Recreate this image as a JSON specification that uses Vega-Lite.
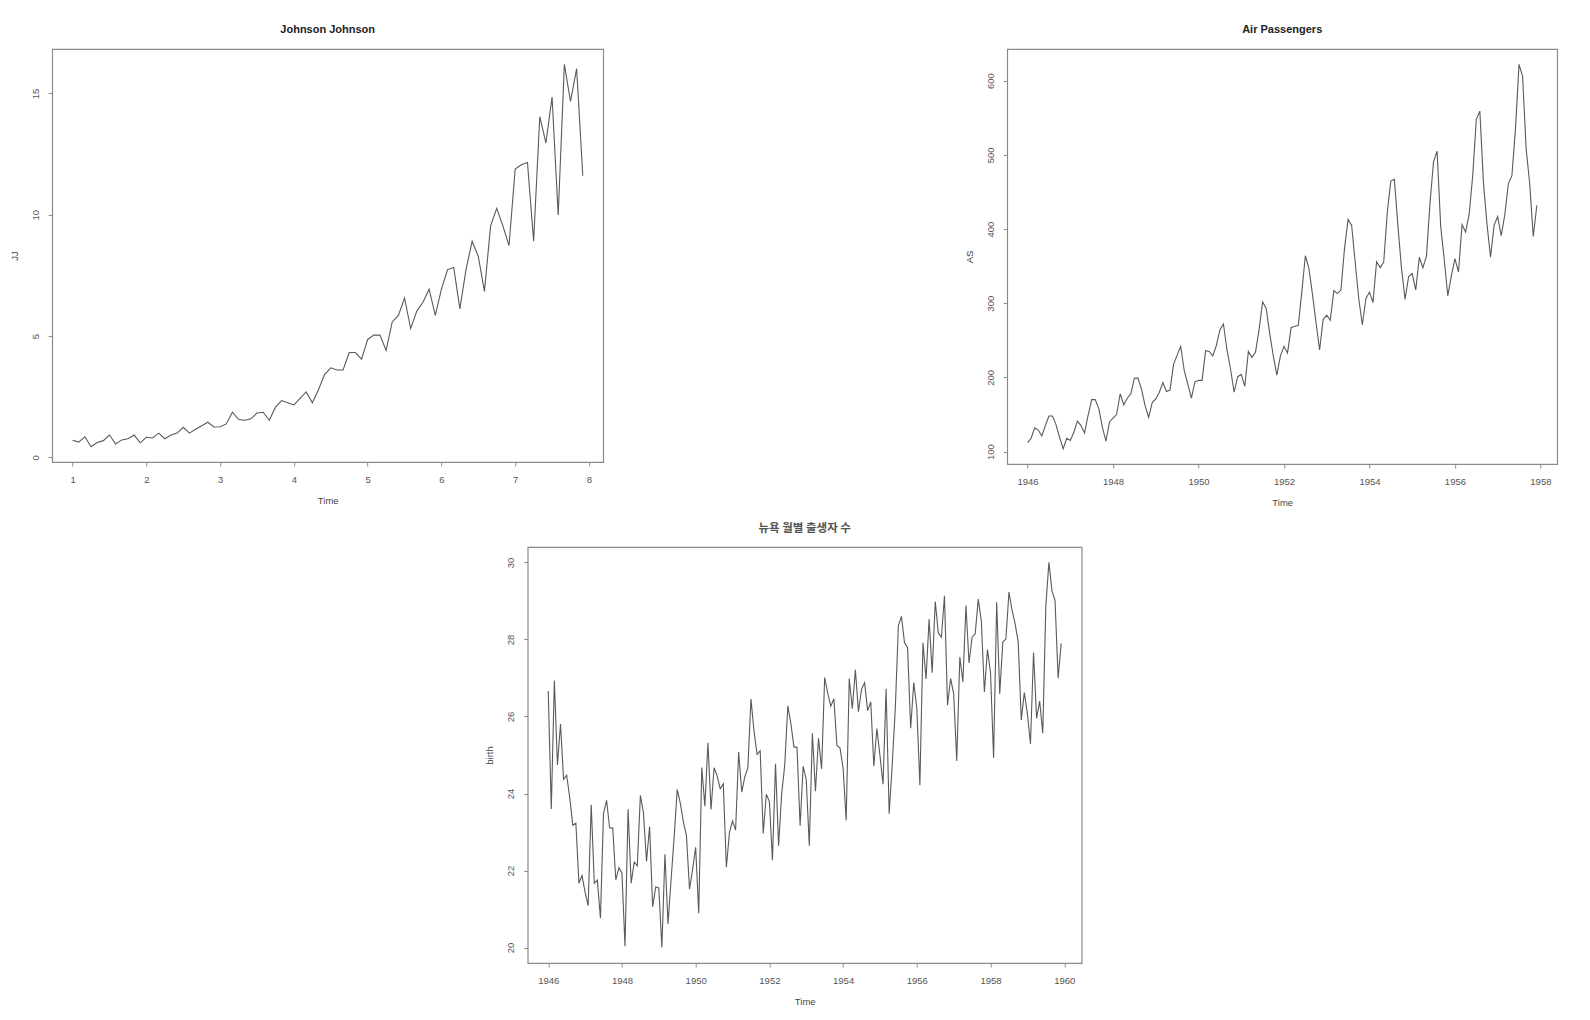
{
  "$schema": "https://vega.github.io/schema/vega-lite/v6.json",
  "background": "white",
  "padding": {"left": 8, "top": 23, "right": 5, "bottom": 5},
  "datasets": {
    "jj": [
      {"t":1,"v":0.71},{"t":1.0833,"v":0.63},{"t":1.1667,"v":0.85},{"t":1.25,"v":0.44},{"t":1.3333,"v":0.61},{"t":1.4167,"v":0.69},{"t":1.5,"v":0.92},{"t":1.5833,"v":0.55},{"t":1.6667,"v":0.72},{"t":1.75,"v":0.77},{"t":1.8333,"v":0.92},{"t":1.9167,"v":0.60},
      {"t":2,"v":0.83},{"t":2.0833,"v":0.80},{"t":2.1667,"v":1.00},{"t":2.25,"v":0.77},{"t":2.3333,"v":0.92},{"t":2.4167,"v":1.00},{"t":2.5,"v":1.24},{"t":2.5833,"v":1.00},{"t":2.6667,"v":1.16},{"t":2.75,"v":1.30},{"t":2.8333,"v":1.45},{"t":2.9167,"v":1.25},
      {"t":3,"v":1.26},{"t":3.0833,"v":1.38},{"t":3.1667,"v":1.86},{"t":3.25,"v":1.56},{"t":3.3333,"v":1.53},{"t":3.4167,"v":1.59},{"t":3.5,"v":1.83},{"t":3.5833,"v":1.86},{"t":3.6667,"v":1.53},{"t":3.75,"v":2.07},{"t":3.8333,"v":2.34},{"t":3.9167,"v":2.25},
      {"t":4,"v":2.16},{"t":4.0833,"v":2.43},{"t":4.1667,"v":2.70},{"t":4.25,"v":2.25},{"t":4.3333,"v":2.79},{"t":4.4167,"v":3.42},{"t":4.5,"v":3.69},{"t":4.5833,"v":3.60},{"t":4.6667,"v":3.60},{"t":4.75,"v":4.32},{"t":4.8333,"v":4.32},{"t":4.9167,"v":4.05},
      {"t":5,"v":4.86},{"t":5.0833,"v":5.04},{"t":5.1667,"v":5.04},{"t":5.25,"v":4.41},{"t":5.3333,"v":5.58},{"t":5.4167,"v":5.85},{"t":5.5,"v":6.57},{"t":5.5833,"v":5.31},{"t":5.6667,"v":6.03},{"t":5.75,"v":6.39},{"t":5.8333,"v":6.93},{"t":5.9167,"v":5.85},
      {"t":6,"v":6.93},{"t":6.0833,"v":7.74},{"t":6.1667,"v":7.83},{"t":6.25,"v":6.12},{"t":6.3333,"v":7.74},{"t":6.4167,"v":8.91},{"t":6.5,"v":8.28},{"t":6.5833,"v":6.84},{"t":6.6667,"v":9.54},{"t":6.75,"v":10.26},{"t":6.8333,"v":9.54},{"t":6.9167,"v":8.73},
      {"t":7,"v":11.88},{"t":7.0833,"v":12.06},{"t":7.1667,"v":12.15},{"t":7.25,"v":8.91},{"t":7.3333,"v":14.04},{"t":7.4167,"v":12.96},{"t":7.5,"v":14.85},{"t":7.5833,"v":9.99},{"t":7.6667,"v":16.20},{"t":7.75,"v":14.67},{"t":7.8333,"v":16.02},{"t":7.9167,"v":11.61}
    ],
    "ap": [
      {"t":1946,"v":112},{"t":1946.0833,"v":118},{"t":1946.1667,"v":132},{"t":1946.25,"v":129},{"t":1946.3333,"v":121},{"t":1946.4167,"v":135},{"t":1946.5,"v":148},{"t":1946.5833,"v":148},{"t":1946.6667,"v":136},{"t":1946.75,"v":119},{"t":1946.8333,"v":104},{"t":1946.9167,"v":118},
      {"t":1947,"v":115},{"t":1947.0833,"v":126},{"t":1947.1667,"v":141},{"t":1947.25,"v":135},{"t":1947.3333,"v":125},{"t":1947.4167,"v":149},{"t":1947.5,"v":170},{"t":1947.5833,"v":170},{"t":1947.6667,"v":158},{"t":1947.75,"v":133},{"t":1947.8333,"v":114},{"t":1947.9167,"v":140},
      {"t":1948,"v":145},{"t":1948.0833,"v":150},{"t":1948.1667,"v":178},{"t":1948.25,"v":163},{"t":1948.3333,"v":172},{"t":1948.4167,"v":178},{"t":1948.5,"v":199},{"t":1948.5833,"v":199},{"t":1948.6667,"v":184},{"t":1948.75,"v":162},{"t":1948.8333,"v":146},{"t":1948.9167,"v":166},
      {"t":1949,"v":171},{"t":1949.0833,"v":180},{"t":1949.1667,"v":193},{"t":1949.25,"v":181},{"t":1949.3333,"v":183},{"t":1949.4167,"v":218},{"t":1949.5,"v":230},{"t":1949.5833,"v":242},{"t":1949.6667,"v":209},{"t":1949.75,"v":191},{"t":1949.8333,"v":172},{"t":1949.9167,"v":194},
      {"t":1950,"v":196},{"t":1950.0833,"v":196},{"t":1950.1667,"v":236},{"t":1950.25,"v":235},{"t":1950.3333,"v":229},{"t":1950.4167,"v":243},{"t":1950.5,"v":264},{"t":1950.5833,"v":272},{"t":1950.6667,"v":237},{"t":1950.75,"v":211},{"t":1950.8333,"v":180},{"t":1950.9167,"v":201},
      {"t":1951,"v":204},{"t":1951.0833,"v":188},{"t":1951.1667,"v":235},{"t":1951.25,"v":227},{"t":1951.3333,"v":234},{"t":1951.4167,"v":264},{"t":1951.5,"v":302},{"t":1951.5833,"v":293},{"t":1951.6667,"v":259},{"t":1951.75,"v":229},{"t":1951.8333,"v":203},{"t":1951.9167,"v":229},
      {"t":1952,"v":242},{"t":1952.0833,"v":233},{"t":1952.1667,"v":267},{"t":1952.25,"v":269},{"t":1952.3333,"v":270},{"t":1952.4167,"v":315},{"t":1952.5,"v":364},{"t":1952.5833,"v":347},{"t":1952.6667,"v":312},{"t":1952.75,"v":274},{"t":1952.8333,"v":237},{"t":1952.9167,"v":278},
      {"t":1953,"v":284},{"t":1953.0833,"v":277},{"t":1953.1667,"v":317},{"t":1953.25,"v":313},{"t":1953.3333,"v":318},{"t":1953.4167,"v":374},{"t":1953.5,"v":413},{"t":1953.5833,"v":405},{"t":1953.6667,"v":355},{"t":1953.75,"v":306},{"t":1953.8333,"v":271},{"t":1953.9167,"v":306},
      {"t":1954,"v":315},{"t":1954.0833,"v":301},{"t":1954.1667,"v":356},{"t":1954.25,"v":348},{"t":1954.3333,"v":355},{"t":1954.4167,"v":422},{"t":1954.5,"v":465},{"t":1954.5833,"v":467},{"t":1954.6667,"v":404},{"t":1954.75,"v":347},{"t":1954.8333,"v":305},{"t":1954.9167,"v":336},
      {"t":1955,"v":340},{"t":1955.0833,"v":318},{"t":1955.1667,"v":362},{"t":1955.25,"v":348},{"t":1955.3333,"v":363},{"t":1955.4167,"v":435},{"t":1955.5,"v":491},{"t":1955.5833,"v":505},{"t":1955.6667,"v":404},{"t":1955.75,"v":359},{"t":1955.8333,"v":310},{"t":1955.9167,"v":337},
      {"t":1956,"v":360},{"t":1956.0833,"v":342},{"t":1956.1667,"v":406},{"t":1956.25,"v":396},{"t":1956.3333,"v":420},{"t":1956.4167,"v":472},{"t":1956.5,"v":548},{"t":1956.5833,"v":559},{"t":1956.6667,"v":463},{"t":1956.75,"v":407},{"t":1956.8333,"v":362},{"t":1956.9167,"v":405},
      {"t":1957,"v":417},{"t":1957.0833,"v":391},{"t":1957.1667,"v":419},{"t":1957.25,"v":461},{"t":1957.3333,"v":472},{"t":1957.4167,"v":535},{"t":1957.5,"v":622},{"t":1957.5833,"v":606},{"t":1957.6667,"v":508},{"t":1957.75,"v":461},{"t":1957.8333,"v":390},{"t":1957.9167,"v":432}
    ],
    "ny": [
      {"t":1946,"v":26.663},{"t":1946.0833,"v":23.598},{"t":1946.1667,"v":26.931},{"t":1946.25,"v":24.740},{"t":1946.3333,"v":25.806},{"t":1946.4167,"v":24.364},{"t":1946.5,"v":24.477},{"t":1946.5833,"v":23.901},{"t":1946.6667,"v":23.175},{"t":1946.75,"v":23.227},{"t":1946.8333,"v":21.672},{"t":1946.9167,"v":21.870},
      {"t":1947,"v":21.439},{"t":1947.0833,"v":21.089},{"t":1947.1667,"v":23.709},{"t":1947.25,"v":21.669},{"t":1947.3333,"v":21.752},{"t":1947.4167,"v":20.761},{"t":1947.5,"v":23.479},{"t":1947.5833,"v":23.824},{"t":1947.6667,"v":23.105},{"t":1947.75,"v":23.110},{"t":1947.8333,"v":21.759},{"t":1947.9167,"v":22.073},
      {"t":1948,"v":21.937},{"t":1948.0833,"v":20.035},{"t":1948.1667,"v":23.590},{"t":1948.25,"v":21.672},{"t":1948.3333,"v":22.222},{"t":1948.4167,"v":22.123},{"t":1948.5,"v":23.950},{"t":1948.5833,"v":23.504},{"t":1948.6667,"v":22.238},{"t":1948.75,"v":23.142},{"t":1948.8333,"v":21.059},{"t":1948.9167,"v":21.573},
      {"t":1949,"v":21.548},{"t":1949.0833,"v":20.000},{"t":1949.1667,"v":22.424},{"t":1949.25,"v":20.615},{"t":1949.3333,"v":21.761},{"t":1949.4167,"v":22.874},{"t":1949.5,"v":24.104},{"t":1949.5833,"v":23.748},{"t":1949.6667,"v":23.262},{"t":1949.75,"v":22.907},{"t":1949.8333,"v":21.519},{"t":1949.9167,"v":22.025},
      {"t":1950,"v":22.604},{"t":1950.0833,"v":20.894},{"t":1950.1667,"v":24.677},{"t":1950.25,"v":23.673},{"t":1950.3333,"v":25.320},{"t":1950.4167,"v":23.583},{"t":1950.5,"v":24.671},{"t":1950.5833,"v":24.454},{"t":1950.6667,"v":24.122},{"t":1950.75,"v":24.252},{"t":1950.8333,"v":22.084},{"t":1950.9167,"v":22.991},
      {"t":1951,"v":23.287},{"t":1951.0833,"v":23.049},{"t":1951.1667,"v":25.076},{"t":1951.25,"v":24.037},{"t":1951.3333,"v":24.430},{"t":1951.4167,"v":24.667},{"t":1951.5,"v":26.451},{"t":1951.5833,"v":25.618},{"t":1951.6667,"v":25.014},{"t":1951.75,"v":25.110},{"t":1951.8333,"v":22.964},{"t":1951.9167,"v":23.981},
      {"t":1952,"v":23.798},{"t":1952.0833,"v":22.270},{"t":1952.1667,"v":24.775},{"t":1952.25,"v":22.646},{"t":1952.3333,"v":23.988},{"t":1952.4167,"v":24.737},{"t":1952.5,"v":26.276},{"t":1952.5833,"v":25.816},{"t":1952.6667,"v":25.210},{"t":1952.75,"v":25.199},{"t":1952.8333,"v":23.162},{"t":1952.9167,"v":24.707},
      {"t":1953,"v":24.364},{"t":1953.0833,"v":22.644},{"t":1953.1667,"v":25.565},{"t":1953.25,"v":24.062},{"t":1953.3333,"v":25.431},{"t":1953.4167,"v":24.635},{"t":1953.5,"v":27.009},{"t":1953.5833,"v":26.606},{"t":1953.6667,"v":26.268},{"t":1953.75,"v":26.462},{"t":1953.8333,"v":25.246},{"t":1953.9167,"v":25.180},
      {"t":1954,"v":24.657},{"t":1954.0833,"v":23.304},{"t":1954.1667,"v":26.982},{"t":1954.25,"v":26.199},{"t":1954.3333,"v":27.210},{"t":1954.4167,"v":26.122},{"t":1954.5,"v":26.706},{"t":1954.5833,"v":26.878},{"t":1954.6667,"v":26.152},{"t":1954.75,"v":26.379},{"t":1954.8333,"v":24.712},{"t":1954.9167,"v":25.688},
      {"t":1955,"v":24.990},{"t":1955.0833,"v":24.239},{"t":1955.1667,"v":26.721},{"t":1955.25,"v":23.475},{"t":1955.3333,"v":24.767},{"t":1955.4167,"v":26.219},{"t":1955.5,"v":28.361},{"t":1955.5833,"v":28.599},{"t":1955.6667,"v":27.914},{"t":1955.75,"v":27.784},{"t":1955.8333,"v":25.693},{"t":1955.9167,"v":26.881},
      {"t":1956,"v":26.217},{"t":1956.0833,"v":24.218},{"t":1956.1667,"v":27.914},{"t":1956.25,"v":26.975},{"t":1956.3333,"v":28.527},{"t":1956.4167,"v":27.139},{"t":1956.5,"v":28.982},{"t":1956.5833,"v":28.169},{"t":1956.6667,"v":28.056},{"t":1956.75,"v":29.136},{"t":1956.8333,"v":26.291},{"t":1956.9167,"v":26.987},
      {"t":1957,"v":26.589},{"t":1957.0833,"v":24.848},{"t":1957.1667,"v":27.543},{"t":1957.25,"v":26.896},{"t":1957.3333,"v":28.878},{"t":1957.4167,"v":27.390},{"t":1957.5,"v":28.065},{"t":1957.5833,"v":28.141},{"t":1957.6667,"v":29.048},{"t":1957.75,"v":28.484},{"t":1957.8333,"v":26.634},{"t":1957.9167,"v":27.735},
      {"t":1958,"v":27.132},{"t":1958.0833,"v":24.924},{"t":1958.1667,"v":28.963},{"t":1958.25,"v":26.589},{"t":1958.3333,"v":27.931},{"t":1958.4167,"v":28.009},{"t":1958.5,"v":29.229},{"t":1958.5833,"v":28.759},{"t":1958.6667,"v":28.405},{"t":1958.75,"v":27.945},{"t":1958.8333,"v":25.912},{"t":1958.9167,"v":26.619},
      {"t":1959,"v":26.076},{"t":1959.0833,"v":25.286},{"t":1959.1667,"v":27.660},{"t":1959.25,"v":25.951},{"t":1959.3333,"v":26.398},{"t":1959.4167,"v":25.565},{"t":1959.5,"v":28.865},{"t":1959.5833,"v":30.000},{"t":1959.6667,"v":29.261},{"t":1959.75,"v":29.012},{"t":1959.8333,"v":26.992},{"t":1959.9167,"v":27.897}
    ]
  },
  "center": true,
  "spacing": 13,
  "vconcat": [
    {
      "hconcat": [
        {
          "width": 551,
          "height": 413,
          "title": {"text": "Johnson Johnson"},
          "data": {"name": "jj"},
          "mark": {"type": "line"},
          "encoding": {
            "x": {"field": "t", "type": "quantitative", "title": "Time",
                  "scale": {"domain": [0.7233, 8.1933], "nice": false, "zero": false},
                  "axis": {"values": [1, 2, 3, 4, 5, 6, 7, 8], "format": "d"}},
            "y": {"field": "v", "type": "quantitative", "title": "JJ",
                  "scale": {"domain": [-0.1904, 16.8304], "nice": false, "zero": false},
                  "axis": {"values": [0, 5, 10, 15], "format": "d"}}
          }
        },
        {
          "width": 550,
          "height": 415,
          "title": {"text": "Air Passengers"},
          "data": {"name": "ap"},
          "mark": {"type": "line"},
          "encoding": {
            "x": {"field": "t", "type": "quantitative", "title": "Time",
                  "scale": {"domain": [1945.5233, 1958.3933], "nice": false, "zero": false},
                  "axis": {"values": [1946, 1948, 1950, 1952, 1954, 1956, 1958], "format": "d"}},
            "y": {"field": "v", "type": "quantitative", "title": "AS",
                  "scale": {"domain": [83.28, 642.72], "nice": false, "zero": false},
                  "axis": {"values": [100, 200, 300, 400, 500, 600], "format": "d"}}
          }
        }
      ],
      "spacing": 359
    },
    {
      "width": 554,
      "height": 416,
      "title": {"text": "뉴욕 월별 출생자 수", "font": "Noto Sans CJK KR", "fontSize": 11.5, "fontWeight": "bold", "color": "#555", "offset": 13},
      "data": {"name": "ny"},
      "mark": {"type": "line"},
      "encoding": {
        "x": {"field": "t", "type": "quantitative", "title": "Time",
              "scale": {"domain": [1945.4433, 1960.4733], "nice": false, "zero": false},
              "axis": {"values": [1946, 1948, 1950, 1952, 1954, 1956, 1958, 1960], "format": "d"}},
        "y": {"field": "v", "type": "quantitative", "title": "birth",
              "scale": {"domain": [19.6, 30.4], "nice": false, "zero": false},
              "axis": {"values": [20, 22, 24, 26, 28, 30], "format": "d"}}
      }
    }
  ],
  "config": {
    "view": {"stroke": "#8a8a8a", "strokeWidth": 1.2},
    "line": {"color": "#5a5a5a", "strokeWidth": 1.1},
    "title": {"font": "Liberation Sans", "fontSize": 11, "fontWeight": "bold", "color": "#222", "offset": 14, "anchor": "middle"},
    "axis": {
      "domain": false, "grid": false,
      "tickSize": 4, "tickColor": "#8a8a8a", "tickWidth": 1,
      "labelFont": "Liberation Sans", "labelFontSize": 9.5, "labelColor": "#555",
      "labelOverlap": false, "labelFlush": false,
      "titleFont": "Liberation Sans", "titleFontSize": 9.5, "titleFontWeight": "normal", "titleColor": "#444"
    },
    "axisX": {"labelBaseline": "middle", "labelPadding": 13, "titlePadding": 12},
    "axisY": {"labelAngle": -90, "labelAlign": "center", "labelBaseline": "middle", "labelPadding": 13, "titlePadding": 11}
  }
}
